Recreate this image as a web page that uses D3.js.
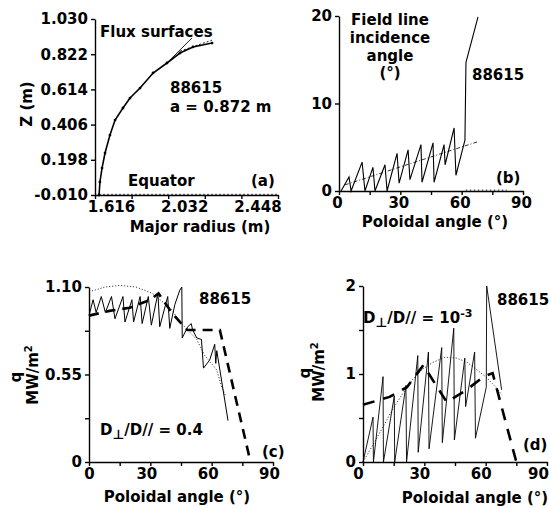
<!DOCTYPE html>
<html>
<head>
<meta charset="utf-8">
<script src="https://cdn.jsdelivr.net/npm/d3@7"></script>
<style>
body { margin: 0; background: #fff; }
svg { display: block; }
.axis path, .axis line { stroke: #000; stroke-width: 1.4; }
.axis text, .lbl { font-family: "DejaVu Sans", sans-serif; font-weight: bold; font-size: 15px; fill: #000; }
</style>
</head>
<body>
<div id="chart"></div>
<script>
// ---- data ----
// (a) flux surface, major radius R (m) vs Z (m)
const fluxR = [1.639, 1.644, 1.656, 1.673, 1.701, 1.730, 1.775, 1.815, 1.872, 1.946, 2.025, 2.099, 2.173, 2.281];
const fluxZ = [-0.010, 0.067, 0.149, 0.238, 0.344, 0.433, 0.504, 0.563, 0.622, 0.711, 0.770, 0.829, 0.865, 0.888];
const branchR = [2.042, 2.167];
const branchZ = [0.788, 0.918];
const branch2R = [2.100, 2.281];
const branch2Z = [0.840, 0.905];
const equatorR = [1.640, 2.650];
const equatorZ = [-0.006, -0.006];
const aZTicks = [-0.010, 0.198, 0.406, 0.614, 0.822, 1.030];
const aZLabels = ["-0.010", "0.198", "0.406", "0.614", "0.822", "1.030"];
const aRTicks = [1.616, 1.824, 2.032, 2.240, 2.448, 2.656];
const aRLabels = ["1.616", "", "2.032", "", "2.448", ""];

// (b) field line incidence angle (deg) vs poloidal angle (deg)
const bAngle = [1, 4.9, 5.9, 11.3, 12.7, 16.6, 17.6, 22.5, 23.5, 28.4, 29.4, 33.8, 34.7, 40.1, 40.6, 46.0, 46.5, 51.4, 51.9, 56.3, 57.2, 61.6, 62.1, 68.0];
const bInc   = [0, 1.6, 0, 3.3, 0, 2.7, 0, 3.0, 0, 4.3, 0.9, 4.7, 1.3, 5.3, 1.0, 5.5, 1.0, 5.3, 3.0, 7.2, 1.8, 5.8, 14.7, 19.9];
const bTrendA = [2.9, 67.5];
const bTrendV = [0.7, 5.6];
const bTailA = [62, 82];
const bTailV = [0.1, 0.1];

// (c) heat flux q (MW/m2), D_perp/D_par = 0.4
const cDotA = [0, 8, 15, 23, 31, 39.5, 46, 52.7, 56.6, 62.4, 65, 67];
const cDotQ = [1.07, 1.10, 1.11, 1.10, 1.06, 0.97, 0.86, 0.77, 0.67, 0.58, 0.47, 0.41];
const cJagA = [0, 2, 3.5, 6, 8, 11, 12.7, 16.6, 17.6, 21, 21.8, 25, 26, 29, 30.5, 33.7, 34.6, 38.5, 39.5, 42, 44.4, 45.4, 45.6, 48.3, 50, 50.7, 52.7, 55, 56, 59, 61.5, 62, 62.5, 68];
const cJagQ = [0.92, 1.02, 0.94, 1.04, 0.94, 1.04, 0.90, 1.04, 0.88, 1.02, 0.88, 1.04, 0.87, 1.04, 0.86, 1.06, 0.85, 1.04, 0.84, 0.99, 1.08, 1.10, 0.78, 0.85, 0.87, 0.83, 0.78, 0.77, 0.59, 0.64, 0.74, 0.62, 0.70, 0.26];
const cDashA = [0, 10, 20, 30, 34, 41, 48, 64, 79];
const cDashQ = [0.92, 0.95, 0.97, 1.02, 1.06, 0.93, 0.83, 0.83, 0];

// (d) heat flux q (MW/m2), D_perp/D_par = 1e-3
const dDotA = [0, 5, 9.8, 14.5, 19.5, 24, 28.8, 34, 40, 46, 51, 55.6, 60, 65.4, 68];
const dDotQ = [0, 0.2, 0.40, 0.6, 0.78, 0.93, 1.05, 1.13, 1.19, 1.18, 1.13, 1.05, 0.97, 0.84, 0.76];
const dJagA = [0, 4.9, 5.1, 9.8, 10.0, 15.3, 15.5, 21.0, 21.3, 26.8, 27.0, 32.0, 32.3, 38.5, 38.8, 44.4, 44.7, 49.8, 50.2, 54.6, 55.0, 60.3, 60.5, 67.8];
const dJagQ = [0, 0.51, 0, 0.97, 0, 0.75, 0, 0.87, 0, 1.21, 0.11, 1.25, 0.15, 1.30, 0.22, 1.52, 0.25, 1.18, 0.63, 1.25, 0.27, 0.85, 2.00, 0.82];
const dDashA = [0, 13, 21.5, 29.5, 41, 50.7, 59, 63.4, 75];
const dDashQ = [0.65, 0.74, 0.85, 1.10, 0.68, 0.82, 0.97, 1.01, 0];

const angTicks = [0, 15, 30, 45, 60, 75, 90];
const angLabels = ["0", "", "30", "", "60", "", "90"];
const bTicks = [0, 10, 20];
const bLabels = ["0", "10", "20"];
const cTicks = [0, 0.275, 0.55, 0.825, 1.10];
const cLabels = ["0", "", "0.55", "", "1.10"];
const dTicks = [0, 0.5, 1, 1.5, 2];
const dLabels = ["0", "", "1", "", "2"];

// ---- drawing ----
const width = 549, height = 509;
const svg = d3.select("#chart").append("svg")
    .attr("width", width).attr("height", height);

function leftAxis(scale, x, ticks, labels) {
  return svg.append("g").attr("class", "axis")
    .attr("transform", `translate(${x},0)`)
    .call(d3.axisLeft(scale).tickValues(ticks)
      .tickFormat((d, i) => labels[i]).tickSize(4).tickSizeOuter(0).tickPadding(3));
}
function bottomAxis(scale, y, ticks, labels) {
  return svg.append("g").attr("class", "axis")
    .attr("transform", `translate(0,${y})`)
    .call(d3.axisBottom(scale).tickValues(ticks)
      .tickFormat((d, i) => labels[i]).tickSize(4).tickSizeOuter(0).tickPadding(2));
}
function path(x, y, A, V, w, dash) {
  const line = d3.line().x(d => x(d[0])).y(d => y(d[1]));
  return svg.append("path").datum(d3.zip(A, V))
    .attr("d", line).attr("fill", "none").attr("stroke", "#000")
    .attr("stroke-width", w).attr("stroke-dasharray", dash || null);
}
function label(x, y, t, anchor, rot) {
  const el = svg.append("text").attr("class", "lbl")
    .attr("text-anchor", anchor || "start").attr("dy", "0.36em");
  if (rot) el.attr("transform", `translate(${x},${y}) rotate(-90)`);
  else el.attr("x", x).attr("y", y);
  if (typeof t === "string") el.text(t);
  return el;
}

// panel (a)
const xa = d3.scaleLinear().domain([1.616, 2.656]).range([95, 278]);
const ya = d3.scaleLinear().domain([-0.010, 1.030]).range([195, 19]);
path(xa, ya, equatorR, equatorZ, 0.9, "1.5,2.5");
path(xa, ya, fluxR, fluxZ, 1.6);
path(xa, ya, branchR, branchZ, 0.9);
path(xa, ya, branch2R, branch2Z, 0.9, "2,2");
svg.append("g").selectAll("circle").data(d3.zip(fluxR, fluxZ)).join("circle")
  .attr("cx", d => xa(d[0])).attr("cy", d => ya(d[1])).attr("r", 1.4).attr("fill", "#000");
leftAxis(ya, 95, aZTicks, aZLabels);
const axA = bottomAxis(xa, 195, aRTicks, aRLabels);
axA.selectAll("text").attr("x", 16);
label(100, 32, "Flux surfaces");
label(170, 88, "88615");
label(170, 107, "a = 0.872 m");
label(128, 181, "Equator");
label(251, 181, "(a)");
label(27, 104, "Z (m)", "middle", true);
label(200, 227, "Major radius (m)", "middle");

// panel (b)
const xb = d3.scaleLinear().domain([0, 90]).range([339, 523]);
const yb = d3.scaleLinear().domain([0, 20]).range([191, 16]);
path(xb, yb, bTailA, bTailV, 0.9, "1.5,2.5");
path(xb, yb, bTrendA, bTrendV, 0.8, "4,2,1,2");
path(xb, yb, bAngle, bInc, 1.1);
leftAxis(yb, 339, bTicks, bLabels);
bottomAxis(xb, 191, angTicks, angLabels).selectAll("text").attr("x", -2);
label(390, 20, "Field line", "middle");
label(390, 38, "incidence", "middle");
label(390, 56, "angle", "middle");
label(390, 73, "(°)", "middle");
label(472, 75, "88615");
label(496, 178, "(b)");
label(435, 222, "Poloidal angle (°)", "middle");

// panel (c)
const xc = d3.scaleLinear().domain([0, 90]).range([89, 273]);
const yc = d3.scaleLinear().domain([0, 1.10]).range([462, 287]);
path(xc, yc, cDotA, cDotQ, 0.9, "1,2");
path(xc, yc, cJagA, cJagQ, 1.0);
path(xc, yc, cDashA, cDashQ, 2.6, "10,7");
leftAxis(yc, 89, cTicks, cLabels);
bottomAxis(xc, 462, angTicks, angLabels).selectAll("text").attr("x", (d, i) => i === 0 ? 0 : -4);
label(199, 299, "88615");
const tc = label(100, 430, null);
tc.append("tspan").text("D");
tc.append("tspan").attr("font-size", "13px").attr("dy", "0.25em").text("⊥");
tc.append("tspan").attr("dy", "-0.25em").text("/D// = 0.4");
label(262, 452, "(c)");
label(16, 377, "q", "middle", true);
const mc = label(33, 375, null, "middle", true).attr("font-size", "14px");
mc.append("tspan").text("MW/m");
mc.append("tspan").attr("font-size", "10px").attr("dy", "-0.6em").text("2");
label(177, 497, "Poloidal angle (°)", "middle");

// panel (d)
const xd = d3.scaleLinear().domain([0, 90]).range([363, 547]);
const yd = d3.scaleLinear().domain([0, 2]).range([462, 286]);
path(xd, yd, dDotA, dDotQ, 0.9, "1,2");
path(xd, yd, dJagA, dJagQ, 0.9);
path(xd, yd, dDashA, dDashQ, 2.6, "12,9");
leftAxis(yd, 363, dTicks, dLabels);
bottomAxis(xd, 462, angTicks, angLabels).selectAll("text").attr("x", (d, i) => i === 6 ? -9 : -5);
label(497, 300, "88615");
const td = label(363, 318, null);
td.append("tspan").text("D");
td.append("tspan").attr("font-size", "13px").attr("dy", "0.25em").text("⊥");
td.append("tspan").attr("dy", "-0.25em").text("/D// = 10");
td.append("tspan").attr("font-size", "11px").attr("dy", "-0.5em").text("-3");
label(523, 445, "(d)");
label(305, 373, "q", "middle", true);
const md = label(319, 372, null, "middle", true).attr("font-size", "14px");
md.append("tspan").text("MW/m");
md.append("tspan").attr("font-size", "10px").attr("dy", "-0.6em").text("2");
label(475, 498, "Poloidal angle (°)", "middle");
</script>
</body>
</html>
